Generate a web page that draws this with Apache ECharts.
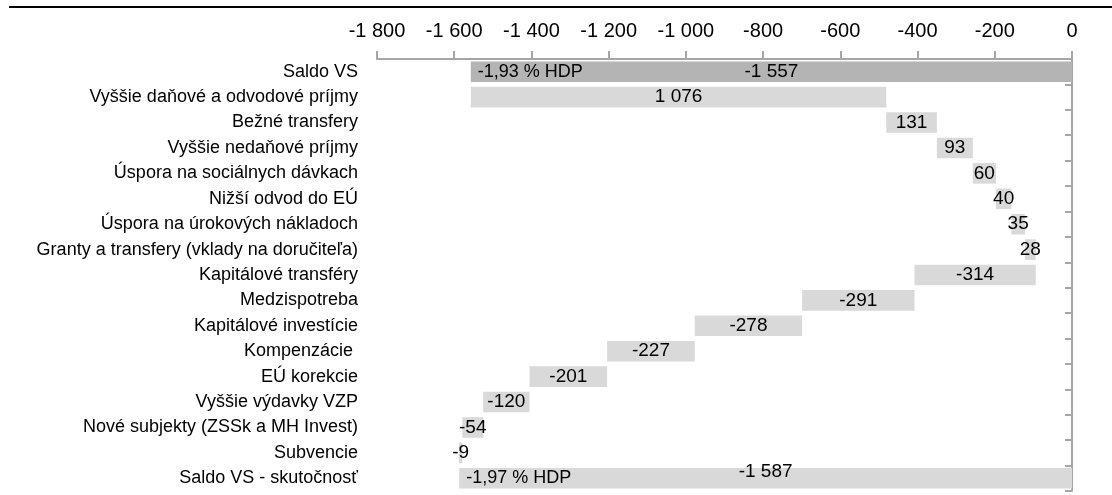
<!DOCTYPE html>
<html>
<head>
<meta charset="utf-8">
<script src="https://cdn.jsdelivr.net/npm/echarts@6/dist/echarts.min.js"></script>
<style>
  html, body { margin: 0; padding: 0; background: #ffffff; }
  #chart { width: 1112px; height: 495px; }
</style>
</head>
<body>
<div id="chart"></div>
<script>
// Rozklad rozdielu salda verejnej správy (mil. eur)
const categories = [
  'Saldo VS',
  'Vyššie daňové a odvodové príjmy',
  'Bežné transfery',
  'Vyššie nedaňové príjmy',
  'Úspora na sociálnych dávkach',
  'Nižší odvod do EÚ',
  'Úspora na úrokových nákladoch',
  'Granty a transfery (vklady na doručiteľa)',
  'Kapitálové transféry',
  'Medzispotreba',
  'Kapitálové investície',
  'Kompenzácie ',
  'EÚ korekcie',
  'Vyššie výdavky VZP',
  'Nové subjekty (ZSSk a MH Invest)',
  'Subvencie',
  'Saldo VS - skutočnosť'
];
const startTotal = -1557;
const endTotal = -1587;
const changes = [1076, 131, 93, 60, 40, 35, 28, -314, -291, -278, -227, -201, -120, -54, -9];
const hdpLabels = ['-1,93 % HDP', '-1,97 % HDP'];
const axisMin = -1800;
const axisMax = 0;
const axisStep = 200;

const FONT = "'Liberation Sans', Arial, sans-serif";

function fmt(v) {
  const s = String(Math.abs(Math.round(v))).replace(/\B(?=(\d{3})+(?!\d))/g, ' ');
  return (v < 0 ? '-' : '') + s;
}

// Floating segments: transparent base up to the level nearer zero, visible part below it
const baseData = [0];
const spanData = [startTotal];
const labelValues = [startTotal];
let level = startTotal;
changes.forEach(function (c) {
  const next = level + c;
  baseData.push(Math.max(level, next));
  spanData.push(-Math.abs(c));
  labelValues.push(c);
  level = next;
});
baseData.push(0);
spanData.push(endTotal);
labelValues.push(endTotal);

const last = categories.length - 1;
const visible = spanData.map(function (v, i) {
  const item = { value: v, itemStyle: { color: i === 0 ? '#b4b4b4' : '#d9d9d9' } };
  if (i === last) item.label = { offset: [0, -7] };
  return item;
});

const hdpData = categories.map(function (c, i) {
  if (i === 0) return startTotal;
  if (i === last) return endTotal;
  return null;
});

const chart = echarts.init(document.getElementById('chart'), null, { renderer: 'canvas' });
chart.setOption({
  animation: false,
  backgroundColor: '#ffffff',
  textStyle: { fontFamily: FONT },
  grid: { left: 377, right: 40, top: 59, bottom: 4, containLabel: false },
  graphic: [{
    type: 'line',
    shape: { x1: 9, y1: 7, x2: 1112, y2: 7 },
    style: { stroke: '#000000', lineWidth: 2 }
  }],
  xAxis: {
    type: 'value',
    position: 'top',
    min: axisMin,
    max: axisMax,
    interval: axisStep,
    splitLine: { show: false },
    axisLine: { show: true, lineStyle: { color: '#a6a6a6', width: 2 } },
    axisTick: { show: true, length: 8, lineStyle: { color: '#a6a6a6', width: 2 } },
    axisLabel: {
      margin: 18,
      fontSize: 20,
      color: '#000000',
      fontFamily: FONT,
      formatter: function (v) { return fmt(v); }
    }
  },
  yAxis: [{
    type: 'category',
    data: categories,
    inverse: true,
    position: 'left',
    axisLine: { show: false },
    axisTick: { show: false },
    axisLabel: { interval: 0, margin: 19, fontSize: 18, color: '#000000', fontFamily: FONT }
  }, {
    type: 'category',
    data: categories,
    inverse: true,
    position: 'right',
    axisLine: { show: true, lineStyle: { color: '#a6a6a6', width: 2 } },
    axisTick: { show: true, interval: 0, inside: true, length: 7, lineStyle: { color: '#a6a6a6', width: 2 } },
    axisLabel: { show: false }
  }],
  series: [{
    name: 'base',
    type: 'bar',
    stack: 'wf',
    barWidth: '81%',
    barGap: '-100%',
    itemStyle: { color: 'rgba(0,0,0,0)' },
    emphasis: { disabled: true },
    data: baseData
  }, {
    name: 'zmena',
    type: 'bar',
    stack: 'wf',
    barWidth: '81%',
    barGap: '-100%',
    label: {
      show: true,
      position: 'inside',
      fontSize: 19,
      color: '#000000',
      fontFamily: FONT,
      formatter: function (p) { return fmt(labelValues[p.dataIndex]); }
    },
    data: visible
  }, {
    name: 'hdp',
    type: 'bar',
    stack: 'hdp',
    barWidth: '81%',
    barGap: '-100%',
    itemStyle: { color: 'rgba(0,0,0,0)' },
    label: {
      show: true,
      position: 'insideLeft',
      distance: 7,
      fontSize: 18,
      color: '#000000',
      fontFamily: FONT,
      formatter: function (p) { return p.dataIndex === 0 ? hdpLabels[0] : hdpLabels[1]; }
    },
    data: hdpData
  }]
});
</script>
</body>
</html>
